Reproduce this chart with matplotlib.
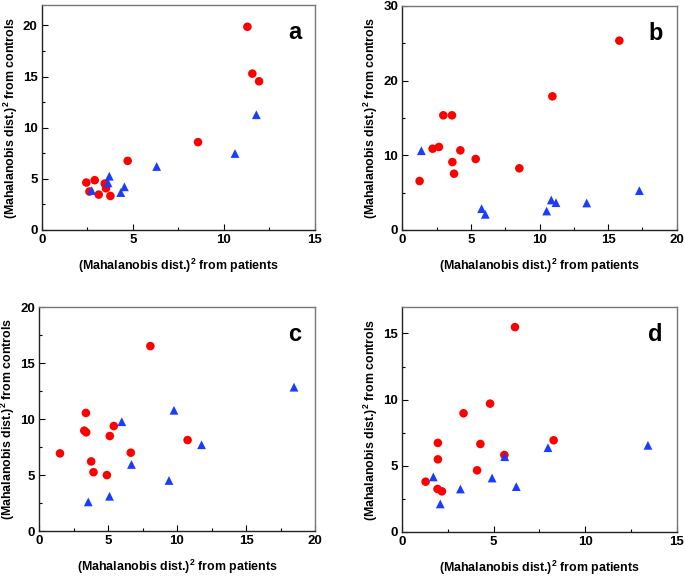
import matplotlib
matplotlib.use("Agg")
import matplotlib.pyplot as plt
from matplotlib.ticker import MultipleLocator

plt.rcParams['font.family'] = ['Liberation Sans', 'DejaVu Sans']
plt.rcParams['font.weight'] = 'bold'
plt.rcParams['mathtext.fontset'] = 'custom'
plt.rcParams['mathtext.bf'] = 'Liberation Sans:bold'

# ---------- data (x = from patients, y = from controls) ----------
a_red_x = [11.29, 11.56, 11.93, 8.58, 4.72, 2.45, 2.91, 2.62, 3.13, 3.46, 3.53, 3.77]
a_red_y = [19.87, 15.29, 14.54, 8.59, 6.76, 4.64, 4.87, 3.76, 3.46, 4.54, 4.08, 3.33]
a_blue_x = [11.78, 10.61, 6.31, 3.71, 3.64, 2.74, 4.54, 4.34]
a_blue_y = [11.27, 7.48, 6.21, 5.26, 4.61, 3.86, 4.22, 3.66]

b_red_x = [15.82, 10.94, 2.99, 3.62, 2.21, 2.67, 4.23, 5.35, 3.65, 3.77, 8.53, 1.26]
b_red_y = [25.36, 17.90, 15.36, 15.36, 10.89, 11.12, 10.67, 9.51, 9.10, 7.54, 8.26, 6.56]
b_blue_x = [1.39, 5.78, 6.05, 10.52, 10.86, 11.20, 13.44, 17.28]
b_blue_y = [10.62, 2.86, 2.10, 2.54, 4.02, 3.66, 3.62, 5.27]

c_red_x = [8.07, 3.40, 3.28, 3.42, 5.42, 5.13, 10.77, 6.65, 1.52, 3.78, 3.95, 4.92]
c_red_y = [16.51, 10.54, 8.96, 8.81, 9.37, 8.48, 8.12, 6.99, 6.93, 6.21, 5.25, 4.99]
c_blue_x = [18.48, 9.78, 6.00, 11.78, 6.70, 9.42, 5.11, 3.57]
c_blue_y = [12.84, 10.78, 9.76, 7.70, 5.94, 4.51, 3.10, 2.60]

d_red_x = [6.17, 4.81, 3.36, 1.96, 4.28, 8.28, 1.96, 5.59, 4.10, 1.29, 1.94, 2.18]
d_red_y = [15.48, 9.70, 8.97, 6.73, 6.65, 6.93, 5.49, 5.82, 4.66, 3.80, 3.25, 3.07]
d_blue_x = [13.43, 7.97, 5.61, 4.92, 1.71, 3.19, 6.24, 2.09]
d_blue_y = [6.55, 6.37, 5.69, 4.08, 4.16, 3.25, 3.43, 2.12]

panels = [
    ("a", a_red_x, a_red_y, a_blue_x, a_blue_y, 15, 22, 5),
    ("b", b_red_x, b_red_y, b_blue_x, b_blue_y, 20, 30, 10),
    ("c", c_red_x, c_red_y, c_blue_x, c_blue_y, 20, 20, 5),
    ("d", d_red_x, d_red_y, d_blue_x, d_blue_y, 15, 17, 5),
]

# axes boxes in pixels: left, top, right, bottom
boxes = [(41.7, 5, 315, 230), (402.3, 6, 676.7, 230),
         (39, 307, 315, 531), (402, 307, 676.7, 532)]

W, H = 685, 576
fig = plt.figure(figsize=(W / 100, H / 100), dpi=100)

for (lab, rx, ry, bx, by, xmax, ymax, ystep), (l, t, r, b) in zip(panels, boxes):
    ax = fig.add_axes([l / W, 1 - b / H, (r - l) / W, (b - t) / H])
    ax.scatter(rx, ry, s=38, c='#ff0000', marker='o', edgecolors='none', zorder=3)
    ax.scatter(bx, by, s=40, c='#1a3cff', marker='^', edgecolors='none', zorder=3)
    ax.set_xlim(0, xmax)
    ax.set_ylim(0, ymax)
    ax.xaxis.set_major_locator(MultipleLocator(5))
    ax.xaxis.set_minor_locator(MultipleLocator(2.5))
    ax.yaxis.set_major_locator(MultipleLocator(ystep))
    ax.yaxis.set_minor_locator(MultipleLocator(ystep / 2))
    ax.tick_params(which='both', direction='in', top=False, right=False,
                   labelsize=9.5, width=0.8, pad=3)
    ax.tick_params(which='major', length=4)
    ax.tick_params(which='minor', length=2.5)
    for side in ['left', 'bottom']:
        ax.spines[side].set_color('#222222')
    for side in ['top', 'right']:
        ax.spines[side].set_color('#777777')
    for sp in ax.spines.values():
        sp.set_linewidth(1.0)
    ax.set_xlabel('(Mahalanobis dist.)$^\\mathbf{2}$ from patients',
                  fontsize=8.9, fontweight='bold', labelpad=8)
    ax.set_ylabel('(Mahalanobis dist.)$^\\mathbf{2}$ from controls',
                  fontsize=8.9, fontweight='bold', labelpad=2)
    ax.text(0.95, 0.93, lab, transform=ax.transAxes, ha='right', va='top',
            fontsize=17, fontweight='bold')

fig.savefig("out.png", dpi=100)
